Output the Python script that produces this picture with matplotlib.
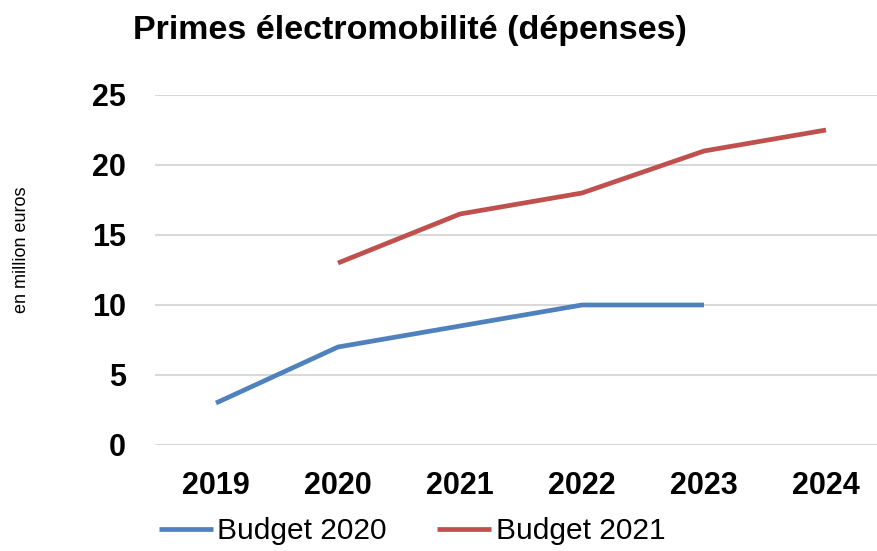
import matplotlib
matplotlib.use("Agg")
import matplotlib.pyplot as plt
import numpy as np

years = ["2019", "2020", "2021", "2022", "2023", "2024"]
budget_2020 = [3, 7, 8.5, 10, 10, None]
budget_2021 = [None, 13, 16.5, 18, 21, 22.5]
yticks = [0, 5, 10, 15, 20, 25]
title = "Primes électromobilité (dépenses)"
ylabel = "en million euros"

fam = ["Liberation Sans", "DejaVu Sans"]

fig = plt.figure(figsize=(8.77, 5.51), dpi=100)
ax = fig.add_axes([155/877, 1-445/551, 1-155/877, (445-95)/551])

x = np.arange(len(years))
def arr(v):
    return np.array([np.nan if a is None else a for a in v], dtype=float)

ax.plot(x, arr(budget_2020), color="#4F81BD", lw=3.4, label="Budget 2020", solid_capstyle="butt")
ax.plot(x, arr(budget_2021), color="#C0504D", lw=3.4, label="Budget 2021", solid_capstyle="butt")

ax.set_xlim(-0.5, -0.5 + (877-155)/122)
ax.set_ylim(0, 25)
ax.set_yticks(yticks)
ax.set_xticks(x)
ax.set_xticklabels(years)
ax.grid(axis="y", color="#D9D9D9", lw=1.5)
ax.set_axisbelow(True)
for s in ax.spines.values():
    s.set_visible(False)
ax.tick_params(length=0)
for lab in ax.get_xticklabels() + ax.get_yticklabels():
    lab.set_fontfamily(fam)
    lab.set_fontweight("bold")
    lab.set_fontsize(22)
ax.tick_params(axis="x", pad=19)
ax.tick_params(axis="y", pad=21)

fig.text(410/877, 1-30/551, title, ha="center", va="center", fontsize=24.5,
         fontweight="bold", family=fam)
fig.text(22/877, 1-250/551, ylabel, rotation=90, ha="center", va="center",
         fontsize=13, family=fam)

leg = fig.legend(loc="center", bbox_to_anchor=(412/877, 1-531/551), ncol=2,
                 frameon=False, prop={"family": fam, "size": 21.5},
                 handlelength=1.8, handletextpad=0.15, columnspacing=1.7,
                 borderpad=0, borderaxespad=0)

fig.savefig("out.png", dpi=100)
